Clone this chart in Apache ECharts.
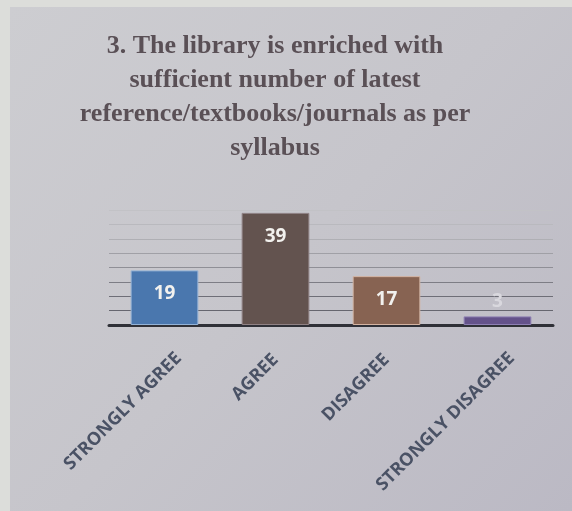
<!DOCTYPE html>
<html>
<head>
<meta charset="utf-8">
<style>
  html, body { margin: 0; padding: 0; background: #dcddda; }
  #chart { width: 572px; height: 511px; }
</style>
<script src="https://cdn.jsdelivr.net/npm/echarts@6/dist/echarts.min.js"></script>
</head>
<body>
<div id="chart"></div>
<script>
// Survey responses for statement 3
const titleText = '3. The library is enriched with\nsufficient number of latest\nreference/textbooks/journals as per\nsyllabus';
const categories = ['STRONGLY AGREE', 'AGREE', 'DISAGREE', 'STRONGLY DISAGREE'];
const responses = [19, 39, 17, 3];
const barColors = ['#4a77ae', '#63534f', '#876352', '#64528a'];
const barBorders = ['#93b2d6', '#8f8184', '#d3b3a2', '#8d7fb3'];

const chart = echarts.init(document.getElementById('chart'), null, { renderer: 'canvas' });

const seriesData = responses.map((v, i) => {
  const item = {
    value: v,
    itemStyle: { color: barColors[i], borderColor: barBorders[i], borderWidth: 1 }
  };
  // the shortest bar carries its label above the bar
  if (v < 8) {
    item.label = { position: 'top', distance: 5, color: '#d9d8de' };
  }
  return item;
});

// longer slanted labels sit a little further right of their tick
const axisCategories = categories.map(name => ({
  value: name,
  textStyle: name.length > 10
    ? { padding: [0, -11, 0, 0], verticalAlign: 'top' }
    : { padding: 0 }
}));

chart.setOption({
  backgroundColor: 'transparent',
  animation: false,
  graphic: [{
    type: 'rect',
    z: -10,
    shape: { x: 10, y: 7, width: 562, height: 504 },
    style: {
      fill: new echarts.graphic.LinearGradient(0, 0, 1, 1, [
        { offset: 0, color: '#cdcdd1' },
        { offset: 0.5, color: '#c6c5cb' },
        { offset: 1, color: '#bbb9c4' }
      ])
    }
  }],
  title: {
    text: titleText,
    left: 270,
    top: 24,
    textAlign: 'center',
    textStyle: {
      fontFamily: '"Liberation Serif", "DejaVu Serif", serif',
      fontWeight: 'bold',
      fontSize: 26,
      lineHeight: 34,
      color: '#5a5056'
    }
  },
  grid: { left: 109, right: 19, top: 210, bottom: 186, containLabel: false },
  xAxis: {
    type: 'category',
    data: axisCategories,
    axisLine: { show: true, lineStyle: { color: '#2f3037', width: 3 } },
    axisTick: { show: false },
    axisLabel: {
      rotate: 45,
      margin: 32,
      fontFamily: '"Open Sans", "Noto Sans", sans-serif',
      fontWeight: 'bold',
      fontSize: 18,
      color: '#4a5265',
      interval: 0
    }
  },
  yAxis: {
    type: 'value',
    min: 0,
    max: 40,
    interval: 5,
    axisLine: { show: false },
    axisTick: { show: false },
    axisLabel: { show: false },
    splitLine: {
      show: true,
      lineStyle: {
        width: 1.2,
        color: ['#2f3037', '#66666f', '#6e6e77', '#7d7d85', '#8f8f96', '#a0a0a6', '#afafb4', '#b9b9be', '#c2c2c6']
      }
    }
  },
  series: [{
    type: 'bar',
    data: seriesData,
    barWidth: '61%',
    label: {
      show: true,
      position: 'insideTop',
      distance: 14,
      fontFamily: '"Open Sans", "Noto Sans", sans-serif',
      fontWeight: 'bold',
      fontSize: 19,
      color: '#f2f1ee'
    }
  }]
});
</script>
</body>
</html>
